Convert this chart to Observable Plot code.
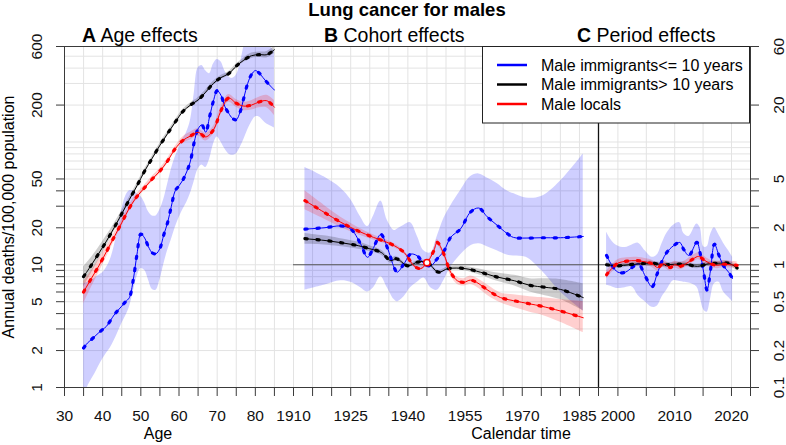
<!DOCTYPE html>
<html><head><meta charset="utf-8">
<script src="https://cdn.jsdelivr.net/npm/d3@7"></script>
<script src="https://cdn.jsdelivr.net/npm/@observablehq/plot@0.6"></script>
<style>
body{margin:0;background:#fff;}
#chart{position:relative;width:786px;height:445px;font-family:"Liberation Sans",Arial,Helvetica,sans-serif;}
#chart svg{position:absolute;left:0;top:0;}
</style></head><body><div id="chart"></div><script>
// ---------- data ----------
const seriesNames = ["Male immigrants<= 10 years", "Male immigrants> 10 years", "Male locals"];
const seriesColors = ["#0000ff", "#000000", "#ff0000"];

// Age effects (Annual deaths/100,000)
const ageBlueX = d3.range(35, 86, 1);
const ageBlue = [2.1,2.3,2.45,2.62,2.8,2.97,3.15,3.5,3.9,4.25, 4.6,5.0,5.4,7.5,12.2,17.8,16.5,14,12.5,12.3, 13.6,17.5,22,30,40,44,49,57,70,100, 128,138,120,160,215,262,240,195,172,156, 152,175,230,300,355,382,365,335,308,285, 265];
const ageBlueLo = [0.7,1.0,1.15,1.3,1.5,1.7,1.9,2.1,2.4,2.8, 3.3,3.8,4.5,6,8,9.3,9,7.5,6.3,6.2, 7.5,10,13,16,20,24,28,32,38,48, 60,65,62,72,95,110,100,88,80,78, 80,90,105,125,145,160,160,150,140,135, 130];
const ageBlueHi = [7.0,7.2,7.5,7.8,8.2,8.6,9.5,11,14,20, 28,36,40,40,38,36,32,27,25,25, 28,34,45,60,75,90,105,120,150,250, 400,420,380,360,430,470,450,380,340,330, 350,430,600,800,900,900,850,800,700,600, 550];
const ageX2 = d3.range(35, 86, 2);
const ageBlack = [8,9.9,12.4,15.6,20,26,34,44,58,74,94,117,145,177,200,220,255,300,335,360,415,465,505,515,515,565];
const ageBlackLo = [6.6,8.5,11,14.2,18.6,24.4,32.3,41.8,55.7,71,90.2,112,139,170,192,211,245,288,322,346,398,446,480,489,484,525];
const ageBlackHi = [9.6,11.4,13.9,17.2,21.6,27.6,35.7,46.2,60.3,77,97.8,122,151,184,208,229,265,312,348,374,432,484,530,541,546,605];
const ageRed = [6.0,7.7,9.8,12.8,16.8,22,29,36,42.5,50,58,70,88,103,112,120,110,125,180,228,207,196,200,212,217,192];
const ageRedLo = [4.8,6.5,8.6,11.5,15.5,20.5,27.3,34.2,40.4,47.5,55.1,66.5,84.6,97.8,104,112,102,116,167,211,192,180,182,190,190,164];
const ageRedHi = [7.3,8.9,11.1,14.1,18.1,23.5,30.7,37.8,44.6,52.5,60.9,73.5,92,110,120,128,118,134,193,244,222,211,217,232,240,218];

// Cohort effects (rate ratio)
const cohBlueX = [1913,1918,1922.4,1925,1927.6,1929.4,1931,1932.9,1934.6,1936.4,1937.2,1939,1940.7,1942.5,1944.2,1946,1947.7,1949.5,1951.2,1953.8,1956.4,1958.6,1960.8,1963.4,1966,1967.7,1971,1975,1980,1986];
const cohBlue = [1.95,2.0,2.07,1.96,1.48,1.15,1.38,1.77,1.38,0.95,0.87,1.02,1.22,1.18,1.02,0.98,1.12,1.30,1.67,1.96,2.68,2.9,2.46,2.1,1.8,1.67,1.65,1.66,1.66,1.70];
const cohBlueLo = [0.62,0.68,0.74,0.72,0.65,0.6,0.65,0.8,0.65,0.52,0.5,0.55,0.65,0.72,0.78,0.65,0.62,0.75,0.95,1.2,1.42,1.48,1.4,1.3,1.2,1.18,1.15,0.9,0.6,0.42];
const cohBlueHi = [6.2,5.2,4.2,3.4,2.45,2.05,2.5,3.3,2.3,1.9,1.95,2.1,2.2,1.7,1.3,1.25,1.7,2.4,3.0,4.0,5.2,5.5,5.1,4.6,4.0,3.8,3.5,3.6,4.8,8.0];
const cohBlackX = [1913,1918,1922,1927,1930,1933,1935.5,1937,1940,1942.5,1945,1948,1950.5,1955,1959,1963,1968,1972,1976,1980,1986];
const cohBlack = [1.63,1.58,1.52,1.43,1.35,1.26,1.08,1.12,0.98,1.05,1.05,0.87,0.93,0.93,0.87,0.80,0.74,0.68,0.655,0.63,0.54];
const cohBlackLo = [1.47,1.45,1.41,1.34,1.28,1.2,1.03,1.07,0.95,1.02,1.02,0.84,0.9,0.89,0.82,0.74,0.67,0.6,0.56,0.52,0.42];
const cohBlackHi = [1.8,1.72,1.64,1.53,1.43,1.32,1.13,1.17,1.01,1.08,1.08,0.9,0.96,0.97,0.92,0.86,0.82,0.77,0.77,0.76,0.70];
const cohRedX = [1913,1918,1922.4,1926.7,1931,1935.5,1939,1941.6,1943.3,1945,1946.8,1947.7,1949.4,1951.2,1953,1954.7,1956.4,1958,1961,1964.3,1967.7,1972,1975,1980,1986];
const cohRed = [3.33,2.68,2.22,1.90,1.67,1.48,1.26,0.98,0.93,1.03,1.30,1.52,1.23,0.87,0.74,0.72,0.75,0.72,0.62,0.54,0.51,0.48,0.46,0.42,0.37];
const cohRedLo = [2.8,2.36,2.02,1.77,1.59,1.42,1.22,0.95,0.9,1.0,1.25,1.44,1.17,0.82,0.69,0.67,0.69,0.66,0.56,0.49,0.45,0.41,0.39,0.34,0.28];
const cohRedHi = [4.0,3.06,2.44,2.03,1.75,1.54,1.3,1.01,0.96,1.06,1.35,1.6,1.29,0.92,0.79,0.77,0.81,0.78,0.68,0.59,0.57,0.55,0.54,0.52,0.50];
const cohortRef = [{year: 1945, rr: 1.04}];

// Period effects (rate ratio)
const perBlueX = [1998,1999,2000,2001.3,2002.5,2003.6,2004.8,2006,2006.9,2007.8,2008.6,2009.8,2010.9,2011.6,2012.5,2013.9,2014.5,2015.1,2015.7,2016.3,2017,2017.8,2018.6,2019.5,2020.2];
const perBlue = [1.19,0.98,0.87,0.87,0.95,1.02,0.81,0.66,0.84,1.08,1.26,1.43,1.52,1.33,1.19,1.52,1.23,0.87,0.62,0.9,1.47,1.19,0.98,0.87,0.77];
const perBlueLo = [0.68,0.66,0.64,0.65,0.66,0.56,0.5,0.45,0.46,0.55,0.62,0.74,0.73,0.72,0.71,0.66,0.54,0.43,0.41,0.52,0.7,0.72,0.6,0.54,0.5];
const perBlueHi = [1.84,1.55,1.42,1.38,1.45,1.5,1.3,1.15,1.2,1.5,1.8,2.1,2.2,1.8,1.7,2.15,2.0,1.4,1.4,1.75,2.0,1.75,1.5,1.3,1.15];
const perBlackX = [1998,2000,2002,2004,2006,2008,2010,2012,2014,2016,2018,2019.5,2021];
const perBlack = [1.0,0.98,1.0,1.02,1.03,1.0,1.01,1.01,0.97,1.02,1.03,1.03,0.94];
const perBlackLo = [0.96,0.94,0.96,0.98,0.99,0.96,0.97,0.97,0.93,0.98,0.99,0.99,0.89];
const perBlackHi = [1.04,1.02,1.04,1.06,1.07,1.04,1.05,1.05,1.01,1.06,1.07,1.07,0.99];
const perRedX = [1998,1999,2000,2001.6,2003.3,2005,2006,2007,2008,2009.2,2010,2011,2012,2013.3,2014.2,2015.1,2016.3,2017.5,2018.6,2019.8,2021];
const perRed = [0.83,0.94,1.03,1.07,1.08,1.05,1.02,0.95,1.02,0.95,1.0,0.97,1.02,1.12,1.17,1.1,1.02,0.99,1.01,1.0,0.99];
const perRedLo = [0.77,0.87,0.96,1.0,1.01,0.98,0.95,0.89,0.95,0.89,0.94,0.91,0.96,1.05,1.1,1.03,0.96,0.93,0.95,0.94,0.93];
const perRedHi = [0.89,1.0,1.1,1.14,1.15,1.12,1.09,1.02,1.09,1.02,1.07,1.04,1.09,1.2,1.25,1.18,1.09,1.06,1.08,1.07,1.06];

// axes / ticks
const ageDomain = [30, 90], cohDomain = [1910, 1990], perDomain = [1996.58, 2023.35];
const rateDomain = [1, 600], rrDomain = [0.1, 60];
const rateTicks = [1,2,3,4,5,6,7,8,9,10,20,30,40,50,200,600];
const rateLabels = [1,2,5,10,20,50,200,600];
const rrTicks = [0.1,0.2,0.3,0.4,0.5,0.6,0.7,0.8,0.9,1,2,3,4,5,20,60];
const rrLabels = [0.1,0.2,0.5,1,2,5,20,60];
const rateGrid = [1,2,3,4,5,6,7,8,9,10,20,30,40,50,60,70,80,90,100,200,300,400,500,600];
const rrGrid = rateGrid.map(v => v / 10);
const ageTicks = d3.range(30, 90, 5), ageLabels = [30,40,50,60,70,80];
const cohTicks = d3.range(1910, 1991, 5), cohLabels = [1910,1925,1940,1955,1970,1985];
const perTicks = [2000,2005,2010,2015,2020, perDomain[1]], perLabels = [2000,2010,2020];

// ---------- drawing ----------
const W = 786, H = 445, TOP = 46, BOTTOM = 387;
const FONT = '"Liberation Sans", Arial, Helvetica, sans-serif';
const GRID = "#e3e3e3", FRAME = "#3a3a3a";
const rows = (xs, ys, lo, hi) => xs.map((x, i) => ({x, y: ys[i], lo: lo[i], hi: hi[i]}));

function bandMark(data, color) {
  return Plot.areaY(data, {x: "x", y1: "lo", y2: "hi", fill: color, fillOpacity: 0.19, curve: "catmull-rom", clip: true});
}
function lineMarks(data, color) {
  return [
    Plot.line(data, {x: "x", y: "y", stroke: color, strokeWidth: 1, curve: "catmull-rom", clip: true}),
    Plot.line(data, {x: "x", y: "y", stroke: color, strokeWidth: 3.2, strokeDasharray: "2.2 9.8", strokeLinecap: "round", curve: "catmull-rom", clip: true})
  ];
}
function seriesMarks(list) {
  return [...list.map(([d, c]) => bandMark(d, c)), ...list.flatMap(([d, c]) => lineMarks(d, c))];
}
function xAxis(ticks, labels) {
  return Plot.axisX({ticks, label: null, tickSize: 9, tickPadding: 13, fontSize: 15.5, stroke: FRAME, fill: "#111",
    tickFormat: d => labels.includes(d) ? String(d) : ""});
}
function panel(x0, x1, xDomain, yDomain, marks) {
  return Plot.plot({
    width: W, height: H, marginLeft: x0, marginRight: W - x1, marginTop: TOP, marginBottom: H - BOTTOM,
    x: {domain: xDomain, axis: null, label: null}, y: {type: "log", domain: yDomain, axis: null, label: null},
    style: {background: "transparent", fontFamily: FONT, overflow: "visible"},
    marks
  });
}

const chart = document.getElementById("chart");

// Panel A
const ageSeries = [
  [rows(ageBlueX, ageBlue, ageBlueLo, ageBlueHi), seriesColors[0]],
  [rows(ageX2, ageBlack, ageBlackLo, ageBlackHi), seriesColors[1]],
  [rows(ageX2, ageRed, ageRedLo, ageRedHi), seriesColors[2]]
];
chart.append(panel(64, 293, ageDomain, rateDomain, [
  Plot.ruleY(rateGrid, {stroke: GRID}),
  Plot.ruleX(d3.range(30, 91, 5), {stroke: GRID}),
  ...seriesMarks(ageSeries),
  Plot.ruleY([rateDomain[0], rateDomain[1]], {stroke: FRAME}),
  Plot.ruleX([ageDomain[0]], {stroke: FRAME}),
  Plot.axisY({ticks: rateTicks, label: null, tickSize: 8, stroke: FRAME, tickFormat: () => ""}),
  Plot.text(rateLabels, {y: d => d, text: d => String(d), frameAnchor: "left", dx: -27, rotate: -90,
    fontSize: 15.5, textAnchor: "middle", lineAnchor: "middle", fill: "#111"}),
  xAxis(ageTicks, ageLabels)
]));

// Panel B
const cohSeries = [
  [rows(cohBlueX, cohBlue, cohBlueLo, cohBlueHi), seriesColors[0]],
  [rows(cohBlackX, cohBlack, cohBlackLo, cohBlackHi), seriesColors[1]],
  [rows(cohRedX, cohRed, cohRedLo, cohRedHi), seriesColors[2]]
];
const cohMarks = seriesMarks(cohSeries);
chart.append(panel(293, 598, cohDomain, rrDomain, [
  Plot.ruleY(rrGrid, {stroke: GRID}),
  Plot.ruleX(d3.range(1910, 1991, 5), {stroke: GRID}),
  ...cohMarks.slice(0, 3),
  Plot.ruleY([1], {stroke: "#555"}),
  ...cohMarks.slice(3),
  Plot.dot(cohortRef, {x: "year", y: "rr", r: 3.2, fill: "white", stroke: "#ff0000", strokeWidth: 1.5}),
  Plot.ruleY([rrDomain[0], rrDomain[1]], {stroke: FRAME}),
  xAxis(cohTicks, cohLabels)
]));

// Panel C
const perSeries = [
  [rows(perBlueX, perBlue, perBlueLo, perBlueHi), seriesColors[0]],
  [rows(perBlackX, perBlack, perBlackLo, perBlackHi), seriesColors[1]],
  [rows(perRedX, perRed, perRedLo, perRedHi), seriesColors[2]]
];
const perMarks = seriesMarks(perSeries);
chart.append(panel(598, 750, perDomain, rrDomain, [
  Plot.ruleY(rrGrid, {stroke: GRID}),
  Plot.ruleX(d3.range(2000, 2021, 5), {stroke: GRID}),
  ...perMarks.slice(0, 3),
  Plot.ruleY([1], {stroke: "#555"}),
  ...perMarks.slice(3),
  Plot.ruleY([rrDomain[0], rrDomain[1]], {stroke: FRAME}),
  Plot.ruleX([perDomain[0]], {stroke: "#111", strokeWidth: 1.3}),
  Plot.ruleX([perDomain[1]], {stroke: FRAME}),
  Plot.axisY({anchor: "right", label: null, ticks: rrTicks, tickSize: 8, stroke: FRAME, tickFormat: () => ""}),
  Plot.text(rrLabels, {y: d => d, text: d => String(d), frameAnchor: "right", dx: 28.5, rotate: -90,
    fontSize: 15.5, textAnchor: "middle", lineAnchor: "middle", fill: "#111"}),
  xAxis(perTicks, perLabels)
]));

// Titles, axis titles, legend
const svg = d3.create("svg").attr("width", W).attr("height", H)
  .style("font-family", FONT).style("overflow", "visible");
svg.append("text").attr("x", 407).attr("y", 16).attr("text-anchor", "middle")
  .attr("font-size", 18.5).attr("font-weight", "bold").text("Lung cancer for males");
const panelTitles = [["A", " Age effects", 82], ["B", " Cohort effects", 324], ["C", " Period effects", 577]];
for (const [letter, rest, x] of panelTitles) {
  const t = svg.append("text").attr("x", x).attr("y", 42).attr("font-size", 19.5);
  t.append("tspan").attr("font-weight", "bold").text(letter);
  t.append("tspan").text(rest);
}
svg.append("text").attr("x", 158).attr("y", 439).attr("text-anchor", "middle").attr("font-size", 16).text("Age");
svg.append("text").attr("x", 521).attr("y", 439).attr("text-anchor", "middle").attr("font-size", 16).text("Calendar time");
svg.append("text").attr("transform", "translate(14,217) rotate(-90)").attr("text-anchor", "middle")
  .attr("font-size", 16).text("Annual deaths/100,000 population");
// legend
const lg = svg.append("g");
lg.append("rect").attr("x", 482.5).attr("y", 46.5).attr("width", 267).attr("height", 76.5)
  .attr("fill", "white").attr("stroke", "#222");
seriesNames.forEach((name, i) => {
  const y = 65 + i * 19.5;
  lg.append("line").attr("x1", 497).attr("x2", 527).attr("y1", y).attr("y2", y)
    .attr("stroke", seriesColors[i]).attr("stroke-width", 2.5);
  lg.append("text").attr("x", 541).attr("y", y + 5.5).attr("font-size", 16).text(name);
});
chart.append(svg.node());
</script></body></html>
